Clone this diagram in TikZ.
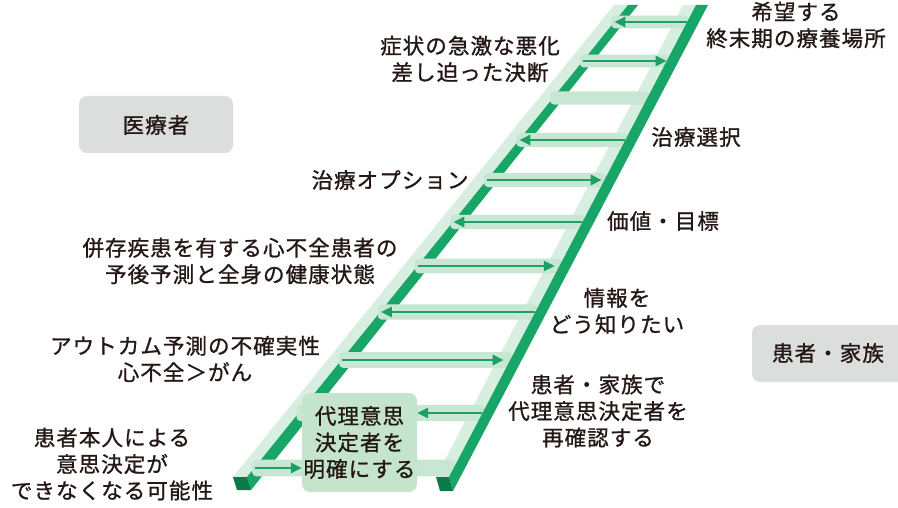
\documentclass[tikz,border=0pt]{standalone}
\usepackage{fontspec}
\usetikzlibrary{arrows.meta}
\newfontfamily\jpfont{Noto Sans CJK JP}[LetterSpace=5,FakeBold=1]
\definecolor{railLight}{RGB}{216,238,225}
\definecolor{rungCol}{RGB}{200,230,212}
\definecolor{railGreen}{RGB}{24,166,104}
\definecolor{railDark}{RGB}{10,122,70}
\definecolor{arrowCol}{RGB}{30,160,100}
\definecolor{boxGreen}{RGB}{196,228,204}
\definecolor{grayFill}{RGB}{220,221,221}
\definecolor{txtCol}{RGB}{35,24,21}
\tikzset{
  lbl/.style={font=\jpfont\fontsize{21.5}{26.5}\selectfont, align=center, text=txtCol, inner sep=0pt},
  graybox/.style={fill=grayFill, rounded corners=8pt},
  greenbox/.style={fill=boxGreen, rounded corners=8pt},
  rungarrow/.style={draw=arrowCol, line width=2.6pt, -{Triangle[length=11pt,width=10pt]}},
}
\begin{document}
\begin{tikzpicture}[x=1pt,y=-1pt]
\useasboundingbox (0,0) rectangle (898,508);
\fill[white] (0,0) rectangle (898,508);
% gray boxes
\fill[graybox] (79,96) rectangle (233,153);
\node[lbl] (med) at (156,125) {医療者};
\fill[graybox] (752,325) rectangle (910,382);
\node[lbl] (fam) at (828,353) {患者・家族};
% right rail light face
\fill[railLight] (436,477) -- (683,5) -- (696,5) -- (449,477) -- cycle;
% left rail
\fill[railLight] (233,477) -- (614,5) -- (628,5) -- (247,477) -- cycle;
\fill[railGreen] (247,477) -- (628,5) -- (638,5) -- (251,490) -- cycle;
\fill[railDark] (233,477) -- (247,477) -- (251,490) -- (237,490) -- cycle;
% rungs
\foreach \i/\yy in {1/22,2/61,3/98,4/140,5/180,6/222,7/266,8/312,9/360,10/413,11/468}{
  \pgfmathsetmacro\tt{(477-\yy)/472}
  \pgfmathsetmacro\xl{248+380*\tt}
  \pgfmathsetmacro\xr{438+257*\tt}
  \pgfmathsetmacro\xrr{449+247*\tt}
  \pgfmathsetmacro\hh{6.3+2*(\yy-22)/446}
  \fill[rungCol, rounded corners=4pt] (\xl-3,\yy-\hh) rectangle (\xrr+2,\yy+\hh);
  \coordinate (L\i) at (\xl,\yy);
  \coordinate (R\i) at (\xr+2,\yy);
  \coordinate (RR\i) at (\xrr,\yy);
}
% right rail green face and end
\fill[railGreen] (449,477) -- (696,5) -- (708,5) -- (453,491) -- cycle;
\fill[railDark] (436,477) -- (449,477) -- (453,491) -- (440,491) -- cycle;
% rung arrows
\foreach \i in {2,5,7,9}{\draw[rungarrow] (L\i) -- (R\i);}
\foreach \i in {1,4,6,8}{\draw[rungarrow] (RR\i) -- (L\i);}
% box
\node[greenbox, minimum width=115pt, minimum height=99pt, inner sep=0pt] (proxy) at (359.5,442.5) {};
\node[lbl] (proxyt) at (proxy.center) {代理意思\\決定者を\\明確にする};
\draw[rungarrow] (RR10) -- (proxy.east |- RR10);
\draw[rungarrow] (L11) -- (proxy.west |- L11);
% labels
\node[lbl] (t1) at (796,25) {希望する\\終末期の療養場所};
\node[lbl] (t2) at (470,59) {症状の急激な悪化\\差し迫った決断};
\node[lbl] (t3) at (696,137) {治療選択};
\node[lbl] (t4) at (390,180) {治療オプション};
\node[lbl] (t5) at (663,221) {価値・目標};
\node[lbl] (t6) at (240,261) {併存疾患を有する心不全患者の\\予後予測と全身の健康状態};
\node[lbl] (t7) at (617,311) {情報を\\どう知りたい};
\node[lbl] (t8) at (185,359) {アウトカム予測の不確実性\\心不全＞がん};
\node[lbl] (t9) at (598,411) {患者・家族で\\代理意思決定者を\\再確認する};
\node[lbl] (t11) at (112,464) {患者本人による\\意思決定が\\できなくなる可能性};
\end{tikzpicture}
\end{document}
